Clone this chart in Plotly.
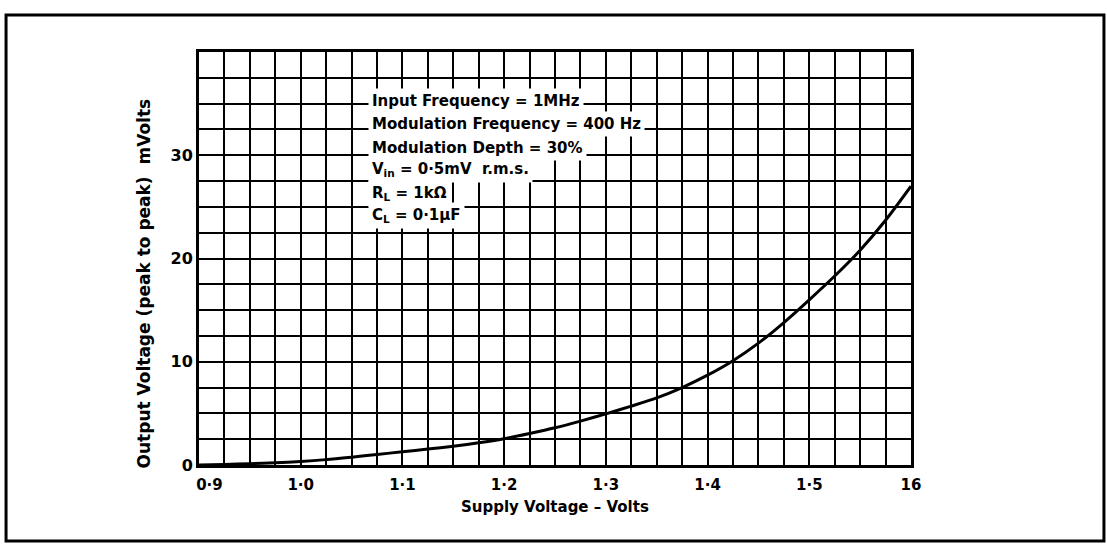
import plotly.graph_objects as go

# Data
supply_voltage = [0.9, 0.925, 0.95, 0.975, 1.0, 1.025, 1.05, 1.075, 1.1, 1.125, 1.15, 1.175,
                  1.2, 1.225, 1.25, 1.275, 1.3, 1.325, 1.35, 1.375, 1.4, 1.425, 1.45, 1.475,
                  1.5, 1.525, 1.55, 1.575, 1.6]
output_mv = [0.0, 0.06, 0.13, 0.22, 0.34, 0.52, 0.76, 1.02, 1.28, 1.54, 1.82, 2.15,
             2.55, 3.05, 3.6, 4.25, 4.95, 5.7, 6.5, 7.5, 8.7, 10.1, 11.8, 13.8,
             16.0, 18.3, 20.8, 23.7, 27.0]

x_tick_vals = [0.9, 1.0, 1.1, 1.2, 1.3, 1.4, 1.5, 1.6]
x_tick_text = ["\u00a0\u00a0\u00a0\u00a00·9", "1·0", "1·1", "1·2", "1·3", "1·4", "1·5", "16"]
y_tick_vals = [0, 10, 20, 30]
y_tick_text = ["0", "10", "20", "30"]

note_lines = [
    "Input Frequency = 1MHz",
    "Modulation Frequency = 400 Hz",
    "Modulation Depth = 30%",
    "V<sub>in</sub> = 0·5mV  r.m.s.",
    "R<sub>L</sub> = 1kΩ",
    "C<sub>L</sub> = 0·1μF",
]
note_y = [35.3, 33.0, 30.7, 28.6, 26.3, 24.2]

FONT = "DejaVu Sans"
BOLD = dict(family=FONT, color="black", weight="bold")

fig = go.Figure()
fig.add_trace(go.Scatter(
    x=supply_voltage, y=output_mv, mode="lines",
    line=dict(color="black", width=3, shape="spline", smoothing=0.8),
    showlegend=False, hoverinfo="skip",
))

fig.update_xaxes(
    range=[0.9, 1.6], tickvals=x_tick_vals, ticktext=x_tick_text,
    ticks="", showline=True, linecolor="black", linewidth=3, mirror=True,
    showgrid=True, gridcolor="black", gridwidth=2, ticklabelstandoff=4,
    minor=dict(dtick=0.025, tick0=0.9, showgrid=True, gridcolor="black", gridwidth=2),
    tickfont=dict(size=15, **BOLD), zeroline=False,
)
fig.update_yaxes(
    range=[0, 40], tickvals=y_tick_vals, ticktext=y_tick_text,
    ticks="", showline=True, linecolor="black", linewidth=3, mirror=True,
    showgrid=True, gridcolor="black", gridwidth=2,
    minor=dict(dtick=2.5, tick0=0, showgrid=True, gridcolor="black", gridwidth=2),
    tickfont=dict(size=16, **BOLD), zeroline=False,
)

for txt, yv in zip(note_lines, note_y):
    fig.add_annotation(
        x=1.066, y=yv, xref="x", yref="y", text=txt, showarrow=False,
        xanchor="left", yanchor="middle", bgcolor="white", borderpad=3,
        font=dict(size=15, **BOLD),
    )

# Axis titles
fig.add_annotation(
    x=0.5, y=-0.102, xref="paper", yref="paper", text="Supply Voltage – Volts",
    showarrow=False, xanchor="center", yanchor="middle",
    font=dict(size=15, **BOLD),
)
fig.add_annotation(
    x=-0.077, y=0.44, xref="paper", yref="paper",
    text="Output Voltage (peak to peak)  mVolts", textangle=-90,
    showarrow=False, xanchor="center", yanchor="middle",
    font=dict(size=17, **BOLD),
)

# Outer frame
fig.add_shape(type="rect", xref="paper", yref="paper",
              x0=-0.271, x1=1.271, y0=-0.184, y1=1.0896,
              line=dict(color="black", width=3), fillcolor="rgba(0,0,0,0)", layer="below")

fig.update_layout(
    width=1107, height=549,
    margin=dict(l=199, r=196, t=52, b=84),
    plot_bgcolor="white", paper_bgcolor="white",
    showlegend=False,
)

fig.write_html(
    "out.html",
    config={"displayModeBar": False},
    post_script="document.body.style.margin='0';document.body.style.overflow='hidden';",
)
